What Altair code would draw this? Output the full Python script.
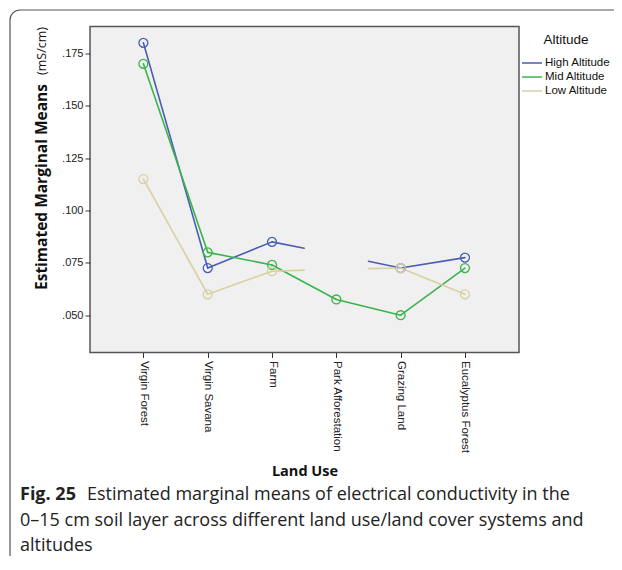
import json
import altair as alt
import pandas as pd

# ---------------- data ----------------
categories = ["Virgin Forest", "Virgin Savana", "Farm", "Park Afforestation",
              "Grazing Land", "Eucalyptus Forest"]
series_names = ["High Altitude", "Mid Altitude", "Low Altitude"]
high_values = [0.180, 0.0725, 0.085, 0.079, 0.0725, 0.0775]
mid_values = [0.170, 0.080, 0.074, 0.0575, 0.050, 0.0725]
low_values = [0.115, 0.060, 0.071, 0.072, 0.0725, 0.060]
high_estimable = [True, True, True, False, True, True]
mid_estimable = [True, True, True, True, True, True]
low_estimable = [True, True, True, False, True, True]
y_ticks = [0.050, 0.075, 0.100, 0.125, 0.150, 0.175]
series_colors = ["#4A5DB5", "#3AB44C", "#D8D1A0"]

x_title = "Land Use"
y_title_bold = "Estimated Marginal Means"
y_title_unit = "(mS/cm)"
legend_title = "Altitude"
caption_label = "Fig. 25"
caption_lines = [
    "Estimated marginal means of electrical conductivity in the",
    "0\u201315 cm soil layer across different land use/land cover systems and",
    "altitudes",
]

# ---------------- tables built from the arrays ----------------
all_values = [high_values, mid_values, low_values]
all_est = [high_estimable, mid_estimable, low_estimable]

pt_rows, seg_rows = [], []
for s, vals, est in zip(series_names, all_values, all_est):
    for i, (v, e) in enumerate(zip(vals, est)):
        if e:
            pt_rows.append({"series": s, "idx": i, "value": v})
    for i in range(len(vals) - 1):
        a, b = est[i], est[i + 1]
        if a and b:
            seg_rows.append({"series": s, "i0": i, "v0": vals[i], "i1": i + 1, "v1": vals[i + 1], "frac": 1.0})
        elif a and not b:
            seg_rows.append({"series": s, "i0": i, "v0": vals[i], "i1": i + 1, "v1": vals[i + 1], "frac": 0.5})
        elif b and not a:
            seg_rows.append({"series": s, "i0": i + 1, "v0": vals[i + 1], "i1": i, "v1": vals[i], "frac": 0.5})
pt_df = pd.DataFrame(pt_rows)
seg_df = pd.DataFrame(seg_rows)

# ---------------- chart ----------------
W, H = 429, 326
LABEL_FONT = "Liberation Sans"
TITLE_FONT = "Open Sans"

xscale = alt.Scale(domain=[-0.83, 5.84], nice=False, zero=False)
yscale = alt.Scale(domain=[0.0322, 0.1878], nice=False, zero=False)
cscale = alt.Scale(domain=series_names, range=series_colors)

x_axis = alt.Axis(
    values=list(range(len(categories))),
    labelExpr=json.dumps(categories) + "[datum.value]",
    title=x_title, titleFont=TITLE_FONT, titleFontSize=14.5, titleFontWeight="bold",
    titleColor="#111", titleY=123, titleBaseline="alphabetic",
    labelAngle=90, labelAlign="left", labelBaseline="middle",
    labelFont=LABEL_FONT, labelFontSize=11.5, labelColor="#222", labelPadding=3,
    tickColor="#333", tickSize=5, tickWidth=1, domain=False, grid=False,
)
y_axis = alt.Axis(
    values=y_ticks,
    labelExpr="substring(format(datum.value, '.3f'), 1)",
    title=None, labelFont=LABEL_FONT, labelFontSize=11, labelColor="#222",
    labelPadding=2, tickColor="#333", tickSize=5, tickWidth=1,
    domain=False, grid=False,
)

lines = alt.Chart(seg_df).transform_calculate(
    xb="datum.i0 + (datum.i1 - datum.i0) * datum.frac",
    yb="datum.v0 + (datum.v1 - datum.v0) * datum.frac",
).mark_rule(strokeWidth=1.6, strokeCap="round").encode(
    x=alt.X("i0:Q", scale=xscale, axis=x_axis),
    x2="xb:Q",
    y=alt.Y("v0:Q", scale=yscale, axis=y_axis),
    y2="yb:Q",
    color=alt.Color(
        "series:N", scale=cscale,
        legend=alt.Legend(
            title=legend_title, orient="none", legendX=431, legendY=6,
            titleFont=LABEL_FONT, titleFontSize=13.5, titleFontWeight="normal",
            titleColor="#111", titleAnchor="middle", titlePadding=10,
            labelFont=LABEL_FONT, labelFontSize=11.5, labelColor="#111",
            labelOffset=2, symbolType="stroke", symbolSize=400,
            symbolStrokeWidth=1.6, rowPadding=0, clipHeight=14,
        ),
    ),
)

points = alt.Chart(pt_df).mark_point(
    shape="circle", filled=False, size=80, strokeWidth=1.3, opacity=1
).encode(
    x=alt.X("idx:Q", scale=xscale),
    y=alt.Y("value:Q", scale=yscale),
    color=alt.Color("series:N", scale=cscale, legend=None),
)


def text_layer(text, x, y, **kw):
    return alt.Chart(pd.DataFrame({"t": [text]})).mark_text(**kw).encode(
        text="t:N", x=alt.value(x), y=alt.value(y)
    )


y_title_a = text_layer(y_title_bold, -48, 263.5, angle=270, align="left",
                       baseline="middle", font=TITLE_FONT, fontSize=15.5,
                       fontWeight="bold", color="#111")
y_title_b = text_layer(y_title_unit, -48, 0.5, angle=270, align="right",
                       baseline="middle", font=TITLE_FONT, fontSize=12.5,
                       fontWeight="normal", color="#111")

cap_kw = dict(align="left", baseline="alphabetic", font=TITLE_FONT, fontSize=18,
              color="#222")
cap0 = text_layer(caption_label, -70, 473, fontWeight="bold", **cap_kw)
cap1 = text_layer(caption_lines[0], -3, 473, **cap_kw)
cap2 = text_layer(caption_lines[1], -70, 499, **cap_kw)
cap3 = text_layer(caption_lines[2], -70, 524, **cap_kw)

frame = alt.Chart(pd.DataFrame({"a": [0]})).mark_rect(
    filled=False, stroke="#555", strokeWidth=1.2, cornerRadius=10
).encode(x=alt.value(-80), x2=alt.value(560), y=alt.value(-16.5), y2=alt.value(542))

chart = alt.layer(
    frame, lines, points, y_title_a, y_title_b, cap0, cap1, cap2, cap3
).properties(
    width=W, height=H,
    autosize=alt.AutoSizeParams(type="none"),
    padding={"left": 82, "top": 18.5, "right": 95, "bottom": 203.5},
    background="white",
).configure_view(
    fill="#F0F0F0", stroke="#555", strokeWidth=1.5
)

chart.save("out.html", embed_options={"renderer": "svg", "actions": False})
